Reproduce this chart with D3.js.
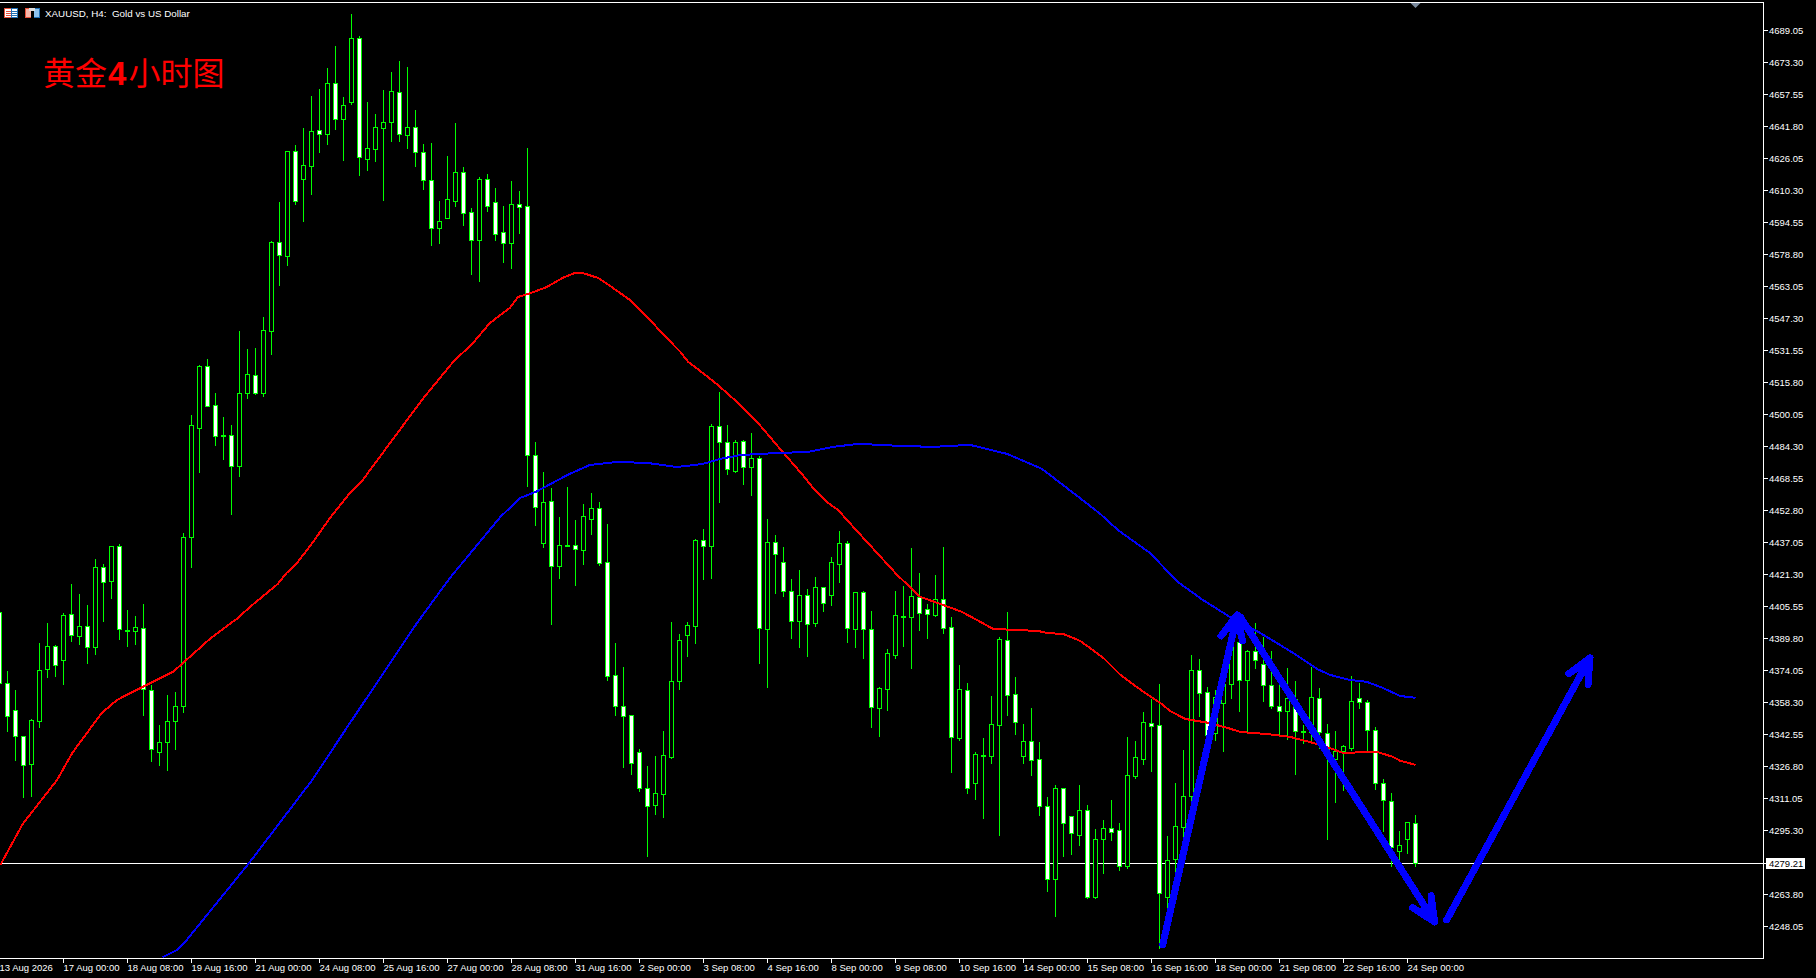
<!DOCTYPE html>
<html><head><meta charset="utf-8">
<script src="https://cdnjs.cloudflare.com/ajax/libs/d3/7.8.5/d3.min.js"></script>
<style>html,body{margin:0;padding:0;background:#000;overflow:hidden}svg{display:block}</style>
</head><body><div id="chart"></div>
<script>
const chartTitle = "XAUUSD, H4:  Gold vs US Dollar";
const noteText = "黄金";
const noteDigit = "4";
const noteTail = "小时图";
const firstBar = -1;
const opens = [
4402.5,4367.6,4354.3,4341.5,4327.7,4348.9,4374.5,4386.2,4379.3,4401.5,
4390.7,4395.6,4385.3,4424.7,4417.8,4435.0,4393.6,4393.1,4394.6,4364.1,
4333.6,4338.5,4348.9,4356.3,4439.4,4493.5,4523.6,4504.8,4489.6,4489.6,
4474.8,4510.3,4519.1,4510.3,4540.8,4584.6,4577.7,4629.4,4615.6,4622.0,
4639.7,4637.8,4663.3,4645.1,4653.5,4685.0,4625.9,4630.4,4640.7,4643.7,
4658.4,4637.3,4641.2,4628.9,4615.1,4591.5,4596.4,4604.8,4619.5,4599.4,
4585.6,4615.6,4604.3,4589.5,4584.1,4603.3,4602.3,4480.2,4436.5,4457.1,
4425.2,4435.9,4435.9,4433.0,4448.7,4453.7,4427.1,4371.6,4356.3,4351.8,
4333.6,4316.3,4307.5,4312.9,4331.1,4368.6,4391.2,4395.6,4437.9,4435.0,
4494.0,4486.6,4472.3,4487.1,4473.9,4478.3,4394.1,4437.0,4427.1,4412.8,
4398.1,4411.3,4397.1,4414.8,4411.3,4426.1,4436.5,4394.1,4412.3,4394.1,
4355.2,4364.6,4381.3,4400.5,4400.0,4409.9,4404.4,4401.0,4408.9,4395.1,
4340.5,4364.1,4318.3,4332.1,4331.6,4346.9,4388.7,4362.1,4331.6,4339.0,
4330.1,4307.0,4271.5,4316.3,4302.1,4292.7,4305.0,4262.2,4291.2,4296.2,
4295.2,4277.5,4321.8,4330.1,4347.9,4346.9,4262.2,4280.9,4297.1,4311.9,
4374.0,4363.1,4342.9,4357.7,4367.1,4387.7,4369.1,4383.3,4376.9,4366.6,
4356.3,4353.8,4359.7,4343.9,4343.4,4360.2,4342.9,4330.1,4334.1,4336.0,
4360.2,4358.2,4344.4,4318.3,4309.9,4285.3,4290.8,4298.6];
const highs = [
4404.0,4374.0,4364.6,4342.0,4350.3,4387.7,4397.6,4386.7,4402.5,4416.8,
4411.9,4406.4,4429.1,4426.6,4435.5,4436.5,4404.0,4401.0,4406.9,4367.1,
4347.4,4362.1,4363.6,4442.3,4500.0,4524.6,4527.5,4510.8,4499.0,4495.0,
4541.3,4532.4,4532.9,4548.6,4585.6,4604.8,4629.9,4632.8,4641.2,4657.4,
4660.4,4670.7,4681.6,4656.5,4697.3,4686.5,4654.0,4648.1,4659.9,4669.2,
4674.2,4671.2,4650.1,4633.3,4633.8,4605.3,4627.4,4643.7,4622.0,4601.8,
4617.1,4618.6,4611.7,4602.8,4615.1,4610.2,4631.8,4487.1,4472.3,4464.0,
4449.7,4464.5,4448.7,4456.1,4462.0,4457.1,4446.3,4387.7,4375.9,4352.3,
4336.0,4327.2,4332.1,4344.4,4398.1,4392.2,4398.1,4438.9,4443.8,4495.5,
4511.3,4495.0,4487.6,4487.6,4491.1,4479.8,4449.2,4440.9,4435.4,4419.2,
4424.1,4414.3,4420.2,4415.3,4430.5,4443.3,4437.9,4412.3,4413.3,4403.5,
4366.1,4384.8,4413.3,4415.8,4434.5,4422.2,4406.9,4421.2,4435.0,4400.5,
4376.9,4368.1,4334.1,4341.0,4361.6,4390.7,4403.0,4371.0,4347.9,4355.7,
4339.0,4311.9,4317.8,4316.8,4302.6,4317.8,4308.0,4296.2,4300.6,4310.9,
4299.1,4341.5,4339.5,4353.8,4360.2,4367.6,4292.7,4318.8,4335.5,4381.8,
4380.3,4366.1,4364.6,4374.5,4395.1,4396.6,4384.3,4397.6,4390.7,4383.8,
4369.6,4375.4,4369.1,4347.4,4375.9,4365.6,4347.9,4344.4,4337.5,4371.5,
4368.1,4359.7,4346.4,4320.8,4313.9,4295.2,4299.6,4303.5];
const lows = [
4364.6,4343.9,4329.7,4311.4,4311.9,4345.9,4370.6,4371.1,4367.1,4388.2,
4386.7,4377.4,4381.9,4398.1,4409.4,4389.2,4386.2,4386.7,4351.8,4329.2,
4327.2,4324.7,4335.1,4353.3,4424.7,4471.8,4503.9,4484.7,4477.8,4450.7,
4469.4,4507.8,4509.8,4508.8,4529.5,4563.4,4573.3,4603.3,4594.9,4608.2,
4628.9,4632.8,4640.2,4625.0,4652.5,4617.6,4620.0,4624.5,4605.3,4634.3,
4634.3,4630.9,4622.0,4610.7,4583.1,4584.1,4596.4,4602.3,4593.4,4569.3,
4565.4,4599.9,4585.6,4575.2,4571.8,4589.0,4464.5,4445.3,4434.5,4396.6,
4419.2,4435.4,4415.8,4426.1,4441.3,4425.6,4369.1,4351.8,4326.2,4322.8,
4314.4,4282.4,4303.5,4301.6,4330.6,4364.6,4380.8,4387.2,4418.7,4419.2,
4456.6,4470.4,4471.4,4465.5,4460.1,4377.4,4365.6,4411.9,4410.4,4389.7,
4385.3,4380.8,4395.6,4403.0,4406.0,4417.3,4387.7,4385.3,4380.3,4345.9,
4341.5,4354.3,4380.3,4386.2,4374.9,4393.6,4389.7,4400.5,4392.6,4323.7,
4339.5,4313.4,4310.9,4301.1,4328.2,4292.7,4351.8,4342.5,4328.2,4322.3,
4303.0,4265.6,4253.3,4282.4,4283.4,4287.8,4261.7,4261.7,4274.0,4290.3,
4275.5,4276.5,4320.8,4327.7,4324.2,4237.1,4257.3,4274.0,4290.3,4308.0,
4351.3,4341.5,4339.5,4334.1,4360.2,4353.8,4343.9,4374.9,4358.7,4355.3,
4342.5,4340.0,4322.8,4338.0,4339.0,4336.0,4291.2,4309.0,4314.9,4334.6,
4355.2,4333.6,4315.4,4294.7,4277.5,4280.9,4283.9,4277.9];
const closes = [
4367.6,4351.3,4341.5,4327.2,4349.3,4374.0,4386.2,4376.4,4401.0,4391.2,
4395.6,4385.3,4424.7,4417.3,4435.0,4394.1,4393.1,4395.1,4364.6,4335.1,
4338.5,4348.9,4356.3,4439.4,4494.5,4523.6,4504.3,4489.1,4489.1,4474.8,
4510.3,4519.6,4510.3,4541.3,4584.6,4578.2,4629.4,4604.8,4622.5,4639.2,
4638.2,4663.3,4645.1,4652.0,4685.0,4626.4,4630.9,4641.2,4643.7,4658.9,
4637.8,4641.2,4628.9,4615.1,4591.5,4594.9,4605.8,4619.1,4598.9,4585.6,
4615.6,4602.3,4588.5,4584.1,4603.3,4601.8,4480.2,4454.6,4456.6,4425.2,
4435.9,4435.7,4433.5,4449.7,4454.1,4426.6,4371.1,4356.3,4351.3,4328.2,
4316.3,4307.0,4313.4,4332.1,4368.6,4388.7,4396.1,4437.9,4435.4,4494.0,
4486.6,4473.3,4486.6,4474.3,4478.3,4394.6,4437.0,4431.0,4412.8,4398.1,
4411.3,4396.6,4414.8,4406.9,4427.1,4436.5,4394.6,4412.3,4394.1,4355.7,
4365.1,4382.3,4401.0,4400.0,4410.4,4402.0,4401.5,4408.9,4394.6,4341.0,
4364.6,4316.3,4332.6,4331.9,4347.4,4389.2,4361.6,4348.4,4339.0,4329.7,
4307.0,4271.5,4316.3,4298.6,4293.7,4305.0,4262.2,4291.2,4296.2,4294.2,
4277.5,4322.3,4331.1,4348.4,4346.4,4264.2,4280.4,4297.6,4311.9,4374.0,
4362.6,4342.0,4360.7,4367.1,4389.2,4369.1,4383.3,4378.9,4366.6,4356.3,
4353.8,4360.2,4343.9,4343.4,4360.7,4343.4,4335.1,4334.1,4336.5,4358.7,
4358.2,4344.4,4318.3,4310.4,4286.8,4287.8,4299.1,4279.21];
const redBars = [-0.9,1.9,6.2,8.1,9.1,11.8,13.7,16.9,20.7,23.2,25.3,28.8,30.3,33.8,34.9,36.2,38.2,40.3,42.8,44.4,51.8,55.7,58.2,60.3,62.8,63.8,65.1,67.4,69.4,70.9,71.9,73.8,75.7,77.8,80.3,82.4,84.1,85.1,86.9,88.8,90.9,93.7,96.9,99.4,100.9,102.4,103.8,106.3,108.7,111.2,114.1,116.6,119.3,121.6,123.2,126.2,128.8,130,132,134.1,137,139.1,142,144.1,145.3,147.2,150.1,152.5,154.1,157.4,160.3,163.2,165.3,166.9,171.2,173.2,174.1,176];
const redValues = [4278.4,4298.6,4320.3,4333.6,4339.0,4353.3,4359.7,4366.1,4373.5,4382.3,4389.7,4400.0,4405.4,4416.8,4422.2,4427.1,4437.4,4449.2,4461.5,4467.9,4507.3,4526.0,4535.4,4545.2,4552.6,4558.0,4559.5,4562.9,4567.4,4569.8,4569.8,4567.4,4562.4,4556.5,4546.7,4537.8,4531.0,4526.0,4520.6,4514.7,4507.3,4496.5,4481.7,4470.4,4463.0,4457.1,4453.2,4442.3,4432.0,4421.2,4410.4,4406.9,4403.0,4398.1,4394.6,4394.1,4393.6,4392.6,4392.1,4388.7,4380.3,4372.0,4363.6,4358.2,4354.3,4350.3,4348.4,4345.9,4343.9,4342.9,4341.5,4338.5,4336.0,4333.6,4334.1,4331.6,4329.7,4327.7];
const blueBars = [19.4,21.2,22.4,30.2,38.1,42.4,51.2,55.3,61.6,64.1,66,70,72.8,76.2,80,83.7,86.9,89.1,91.6,96.2,100,103.2,106.3,111.6,115.7,120.3,125,129.3,133.7,136.6,138.8,142.8,146.3,149.4,152.8,156.6,160.7,163.7,165.3,167.8,169.9,171.9,174.1,176];
const blueValues = [4233.1,4236.6,4241.5,4279.4,4320.3,4345.9,4397.6,4419.7,4449.7,4459.1,4462.0,4470.4,4475.3,4476.8,4476.3,4474.3,4475.8,4478.3,4480.2,4481.2,4481.7,4484.2,4485.7,4484.7,4484.2,4485.2,4480.7,4473.4,4460.1,4451.2,4443.3,4432.0,4417.7,4408.9,4400.5,4392.6,4382.8,4374.9,4372.0,4369.5,4368.6,4365.6,4361.6,4360.7];
const arrowFromBars = [144.4,154.1,179.9];
const arrowFromPrices = [4239.1,4400.5,4251.4];
const arrowToBars = [153.7,178.4,197.8];
const arrowToPrices = [4401.5,4250.4,4380.3];
const lastPrice = 4279.21;
const priceTicks = ["4689.05","4673.30","4657.55","4641.80","4626.05","4610.30","4594.55","4578.80","4563.05","4547.30","4531.55","4515.80","4500.05","4484.30","4468.55","4452.80","4437.05","4421.30","4405.55","4389.80","4374.05","4358.30","4342.55","4326.80","4311.05","4295.30","4263.80","4248.05"];
const dateTicks = ["13 Aug 2026","17 Aug 00:00","18 Aug 08:00","19 Aug 16:00","21 Aug 00:00","24 Aug 08:00","25 Aug 16:00","27 Aug 00:00","28 Aug 08:00","31 Aug 16:00","2 Sep 00:00","3 Sep 08:00","4 Sep 16:00","8 Sep 00:00","9 Sep 08:00","10 Sep 16:00","14 Sep 00:00","15 Sep 08:00","16 Sep 16:00","18 Sep 00:00","21 Sep 08:00","22 Sep 16:00","24 Sep 00:00"];
const dateTickStep = 8;

const W = 1816, H = 978, frameTop = 2, frameRight = 1763, frameBottom = 958;
const uiFont = "'Liberation Sans',Arial,sans-serif";
const GREEN = "#00ff00";

const x = d3.scaleLinear().domain([-1,176]).range([-0.5,1415.5]);
const y = d3.scaleLinear().domain([4689.05,4248.05]).range([30.7,926.7]);
const sx = d => Math.floor(x(d)) + 0.5;
const sy = d => Math.floor(y(d)) + 0.5;

const svg = d3.select("#chart").append("svg").attr("width",W).attr("height",H).style("background","#000");
svg.append("defs").append("clipPath").attr("id","plot").append("rect")
  .attr("x",0).attr("y",frameTop+1).attr("width",frameRight).attr("height",frameBottom-frameTop-1);

const crisp = svg.append("g").attr("shape-rendering","crispEdges");
const plot = crisp.append("g").attr("clip-path","url(#plot)");

plot.append("line").attr("x1",0).attr("x2",frameRight).attr("y1",sy(lastPrice)).attr("y2",sy(lastPrice))
  .attr("stroke","#fff").attr("stroke-width",1);

const idx = d3.range(opens.length);
const barG = plot.append("g").selectAll("g").data(idx).join("g");
barG.append("line")
  .attr("x1",i=>sx(i+firstBar)).attr("x2",i=>sx(i+firstBar))
  .attr("y1",i=>sy(highs[i])).attr("y2",i=>sy(lows[i])+0.5)
  .attr("stroke",GREEN).attr("stroke-width",1);
barG.append("rect")
  .attr("x",i=>sx(i+firstBar)-2).attr("width",4)
  .attr("y",i=>sy(Math.max(opens[i],closes[i])))
  .attr("height",i=>Math.max(1,sy(Math.min(opens[i],closes[i]))-sy(Math.max(opens[i],closes[i]))))
  .attr("fill",i=>opens[i]>closes[i]?"#fff":"#000")
  .attr("stroke",GREEN).attr("stroke-width",1);

const line = d3.line().x(d=>x(d[0])).y(d=>y(d[1]));
plot.append("path").attr("d",line(d3.zip(redBars,redValues))).attr("fill","none").attr("stroke","#ff0000").attr("stroke-width",2);
plot.append("path").attr("d",line(d3.zip(blueBars,blueValues))).attr("fill","none").attr("stroke","#0000ff").attr("stroke-width",2);

const arrows = svg.append("g").attr("shape-rendering","crispEdges");
arrowToBars.forEach((b,i)=>{
  const x0=x(arrowFromBars[i]), y0=y(arrowFromPrices[i]), x1=x(b), y1=y(arrowToPrices[i]);
  const L=Math.hypot(x1-x0,y1-y0), ux=(x1-x0)/L, uy=(y1-y0)/L, back=24, half=11;
  const a=[x1-ux*back-uy*half, y1-uy*back+ux*half], c=[x1-ux*back+uy*half, y1-uy*back-ux*half];
  const n=[x1-ux*back*0.65, y1-uy*back*0.65];
  arrows.append("path").attr("d",`M${x0},${y0}L${x1},${y1}`)
    .attr("stroke","#0000ff").attr("stroke-width",7).attr("stroke-linecap","round").attr("fill","none");
  arrows.append("path").attr("d",`M${a}L${x1},${y1}L${c}L${n}Z`).attr("fill","#0000ff");
  arrows.append("path").attr("d",`M${a}L${x1},${y1}L${c}`)
    .attr("stroke","#0000ff").attr("stroke-width",7).attr("stroke-linejoin","round").attr("stroke-linecap","round").attr("fill","none");
});

crisp.append("path").attr("d",`M0,${frameTop+.5}H${frameRight+.5}V${frameBottom+.5}H0`).attr("fill","none").attr("stroke","#fff").attr("stroke-width",1);

crisp.append("g").selectAll("line").data(priceTicks).join("line")
  .attr("x1",frameRight).attr("x2",frameRight+5)
  .attr("y1",d=>sy(+d)).attr("y2",d=>sy(+d)).attr("stroke","#fff");
const txt = svg.append("g").attr("font-family",uiFont).attr("font-size",9.5).attr("fill","#fff");
txt.selectAll("text.p").data(priceTicks).join("text").attr("class","p")
  .attr("x",frameRight+6).attr("y",d=>sy(+d)+3).text(d=>d);

crisp.append("line").attr("x1",frameRight).attr("x2",frameRight+5).attr("y1",sy(lastPrice)).attr("y2",sy(lastPrice)).attr("stroke","#fff");
crisp.append("rect").attr("x",frameRight+3).attr("y",sy(lastPrice)-5.5).attr("width",39).attr("height",11).attr("fill","#fff");
txt.append("text").attr("x",frameRight+6).attr("y",sy(lastPrice)+3).attr("fill","#000").text(lastPrice.toFixed(2));

dateTicks.forEach((t,i)=>{
  const b = firstBar + i*dateTickStep, px = sx(b);
  if(i>0) crisp.append("line").attr("x1",px).attr("x2",px).attr("y1",frameBottom).attr("y2",frameBottom+5).attr("stroke","#fff");
  txt.append("text").attr("x",px).attr("y",970.5).text(t);
});

txt.append("text").attr("x",45).attr("y",16.5).attr("font-size",9.8).style("white-space","pre").text(chartTitle);

const ic = crisp.append("g");
ic.append("rect").attr("x",4).attr("y",8).attr("width",14).attr("height",10).attr("fill","#fff");
ic.append("rect").attr("x",4.5).attr("y",8.5).attr("width",7).attr("height",9).attr("fill","#fff").attr("stroke","#e8503a");
ic.append("rect").attr("x",11.5).attr("y",8.5).attr("width",6).attr("height",9).attr("fill","#fff").attr("stroke","#1f6fb5");
[11,13,15].forEach(v=>{ic.append("line").attr("x1",6).attr("x2",11).attr("y1",v+.5).attr("y2",v+.5).attr("stroke","#e8503a");
  ic.append("line").attr("x1",12).attr("x2",17).attr("y1",v+.5).attr("y2",v+.5).attr("stroke","#1f6fb5");});
ic.append("rect").attr("x",25.5).attr("y",8.5).attr("width",6).attr("height",9).attr("fill","#f6b6aa").attr("stroke","#e8503a");
ic.append("rect").attr("x",33.5).attr("y",8.5).attr("width",6).attr("height",9).attr("fill","#8fc3ee").attr("stroke","#1f6fb5");
ic.append("rect").attr("x",29).attr("y",8).attr("width",6).attr("height",3).attr("fill","#ddd");
ic.append("rect").attr("x",31).attr("y",11).attr("width",3).attr("height",7).attr("fill","#000");

svg.append("path").attr("d",d3.line()([[sx(176)-5,3],[sx(176)+5,3],[sx(176),8]])+"Z").attr("fill","#7a8a9e");

const note = svg.append("text").attr("x",43).attr("y",85).attr("fill","#ff0000")
  .attr("font-family","'Noto Sans CJK SC',sans-serif").attr("font-size",32).attr("font-weight",400);
note.append("tspan").text(noteText);
note.append("tspan").attr("font-family","'Liberation Sans',Arial,sans-serif").attr("font-weight",700).attr("font-size",33).attr("dx",1).text(noteDigit);
note.append("tspan").attr("dx",2).text(noteTail);
</script></body></html>
